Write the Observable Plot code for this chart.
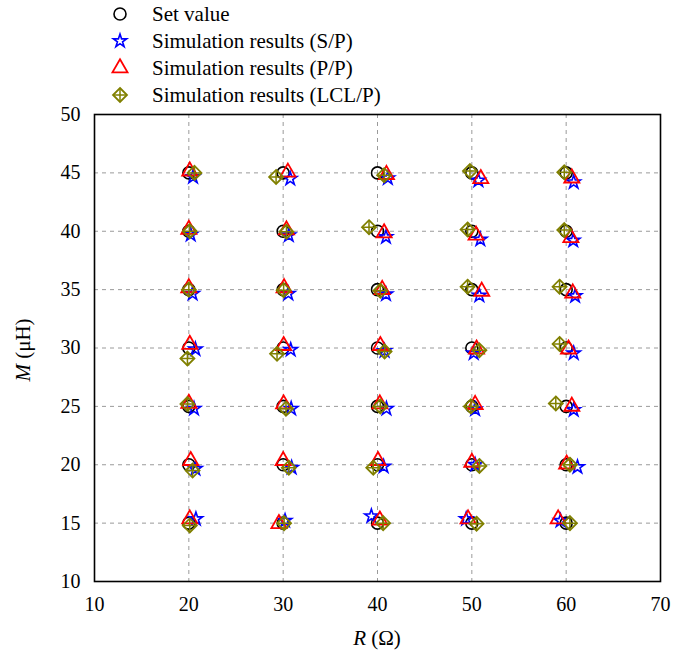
<!DOCTYPE html>
<html><head><meta charset="utf-8">
<script src="https://cdn.jsdelivr.net/npm/d3@7"></script>
<script src="https://cdn.jsdelivr.net/npm/@observablehq/plot@0.6"></script>
<style>
body{margin:0;background:#fff;font-family:"Liberation Serif","Times New Roman",serif;}
#legend{position:relative;height:104px;width:688px;}
.row{position:absolute;left:0;height:28px;width:688px;font-size:21px;color:#000;}
.row svg{position:absolute;left:108px;top:2px;}
.row span{position:absolute;left:152px;top:2px;line-height:24px;white-space:nowrap;}
</style></head><body>
<div id="legend"></div><div id="chart"></div>
<script>
const xTicks = [10, 20, 30, 40, 50, 60, 70];
const yTicks = [10, 15, 20, 25, 30, 35, 40, 45, 50];
const gridXValues = [20, 30, 40, 50, 60];
const gridYValues = [15, 20, 25, 30, 35, 40, 45];
const seriesNames = ["Set value", "Simulation results (S/P)", "Simulation results (P/P)", "Simulation results (LCL/P)"];

// Set values (R in ohm, M in uH), column by column
const setR = [20,20,20,20,20,20,20, 30,30,30,30,30,30,30, 40,40,40,40,40,40,40, 50,50,50,50,50,50,50, 60,60,60,60,60,60,60];
const setM = [45,40,35,30,25,20,15, 45,40,35,30,25,20,15, 45,40,35,30,25,20,15, 45,40,35,30,25,20,15, 45,40,35,30,25,20,15];

// Simulation results (S/P)
const spR = [20.45,20.2,20.4,20.7,20.55,20.7,20.75, 30.75,30.6,30.55,30.8,30.85,30.9,30.2, 41.1,40.9,40.9,40.75,40.95,40.65,39.35, 50.7,50.9,50.8,50.2,50.35,50.35,49.4, 60.8,60.75,60.95,60.8,60.8,61.2,59.4];
const spM = [44.65,39.7,34.65,29.9,24.8,19.65,15.35, 44.5,39.65,34.65,29.85,24.8,19.75,15.2, 44.55,39.5,34.6,29.75,24.8,19.85,15.6, 44.35,39.3,34.5,29.55,24.75,20.0,15.35, 44.2,39.2,34.45,29.55,24.7,19.8,15.2];

// Simulation results (P/P)
const ppR = [20.1,20.0,20.0,20.1,20.0,20.2,20.1, 30.5,30.35,30.1,30.05,30.05,30.0,29.55, 40.95,40.7,40.5,40.3,40.25,40.05,40.25, 50.95,50.45,51.05,50.5,50.35,50.0,49.6, 60.6,60.5,60.7,60.25,60.6,60.05,59.15];
const ppM = [45.15,40.15,35.15,30.3,25.25,20.35,15.35, 45.05,40.1,35.15,30.2,25.2,20.35,14.95, 44.85,39.85,35.0,30.2,25.2,20.35,15.25, 44.5,39.65,34.85,29.9,25.15,20.2,15.35, 44.55,39.45,34.7,29.9,25.0,20.05,15.35];

// Simulation results (LCL/P)
const lclR = [20.6,20.1,20.0,19.85,19.85,20.4,20.1, 29.25,30.35,30.05,29.35,30.3,30.6,30.1, 40.7,39.1,40.3,40.75,40.3,39.55,40.6, 49.8,49.55,49.55,50.8,49.9,50.8,50.5, 59.8,59.8,59.3,59.3,58.9,60.4,60.4];
const lclM = [45.0,40.0,35.0,29.1,25.2,19.5,14.8, 44.65,39.95,34.95,29.5,24.8,19.75,15.0, 44.8,40.35,34.9,29.7,25.0,19.75,15.0, 45.15,40.15,35.25,29.8,25.0,19.9,14.95, 45.05,40.1,35.25,30.35,25.25,20.0,15.0];

const toRows = (R, M) => R.map((r, i) => ({R: r, M: M[i]}));
const setData = toRows(setR, setM);
const spData = toRows(spR, spM);
const ppData = toRows(ppR, ppM);
const lclData = toRows(lclR, lclM);

const styles = {
  circle: {symbol: "circle", r: 6, stroke: "#000000", strokeWidth: 1.6},
  star: {symbol: "star", r: 4.2, stroke: "#0000ff", strokeWidth: 1.6},
  tri: {symbol: "triangle2", r: 7.2, stroke: "#ff0000", strokeWidth: 1.8},
  dia: {symbol: "diamond2", r: 6.3, stroke: "#808000", strokeWidth: 1.8},
  plus: {symbol: "plus", r: 4.58, stroke: "#808000", strokeWidth: 1.5}
};

const W = 688, H = 550;
const chart = Plot.plot({
  width: W, height: H,
  marginLeft: 94, marginRight: 28, marginTop: 10, marginBottom: 73,
  style: {fontFamily: '"Liberation Serif","Times New Roman",serif', fontSize: "20px", color: "#000", background: "#fff"},
  x: {domain: [10, 70]},
  y: {domain: [10, 50]},
  marks: [
    Plot.gridX(gridXValues, {stroke: "#9a9a9a", strokeOpacity: 1, strokeWidth: 1, strokeDasharray: "4,4"}),
    Plot.gridY(gridYValues, {stroke: "#9a9a9a", strokeOpacity: 1, strokeWidth: 1, strokeDasharray: "4,4"}),
    Plot.axisX({ticks: xTicks, tickSize: 0, tickPadding: 15, fontSize: 20, label: null, tickFormat: d => String(d)}),
    Plot.axisY({ticks: yTicks, tickSize: 0, tickPadding: 14, fontSize: 20, label: null, tickFormat: d => String(d)}),
    Plot.dot(setData, {x: "R", y: "M", fill: "none", ...styles.circle}),
    Plot.dot(spData, {x: "R", y: "M", fill: "none", ...styles.star}),
    Plot.dot(ppData, {x: "R", y: "M", fill: "none", ...styles.tri}),
    Plot.dot(lclData, {x: "R", y: "M", fill: "none", ...styles.dia}),
    Plot.dot(lclData, {x: "R", y: "M", fill: "none", ...styles.plus}),
    Plot.frame({stroke: "#000", strokeWidth: 1.6})
  ]
});

// Axis titles with italic variable names
const svg = d3.select(chart);
const yl = svg.append("text")
  .attr("transform", `translate(25,${246}) rotate(-90)`)
  .attr("text-anchor", "middle").attr("dominant-baseline", "middle")
  .attr("font-size", 21).attr("fill", "#000");
yl.append("tspan").attr("font-style", "italic").text("M");
yl.append("tspan").text(" (μH)");
const xl = svg.append("text")
  .attr("x", 377).attr("y", 536)
  .attr("text-anchor", "middle").attr("dominant-baseline", "middle")
  .attr("font-size", 21).attr("fill", "#000");
xl.append("tspan").attr("font-style", "italic").text("R");
xl.append("tspan").text(" (Ω)");

document.getElementById("chart").appendChild(chart);

// Legend
const symMap = {circle: d3.symbolCircle, star: d3.symbolStar, triangle2: d3.symbolTriangle2, diamond2: d3.symbolDiamond2, plus: d3.symbolPlus};
const legendItems = [[styles.circle], [styles.star], [styles.tri], [styles.dia, styles.plus]];
const rowCenters = [14, 41, 68, 95];
const legend = d3.select("#legend");
seriesNames.forEach((name, i) => {
  const row = legend.append("div").attr("class", "row").style("top", (rowCenters[i] - 14) + "px");
  const s = row.append("svg").attr("width", 24).attr("height", 24);
  legendItems[i].forEach(st => {
    s.append("path")
      .attr("transform", "translate(12,12)")
      .attr("d", d3.symbol(symMap[st.symbol], Math.PI * st.r * st.r)())
      .attr("fill", "none").attr("stroke", st.stroke).attr("stroke-width", st.strokeWidth);
  });
  row.append("span").text(name);
});
</script>
</body></html>
